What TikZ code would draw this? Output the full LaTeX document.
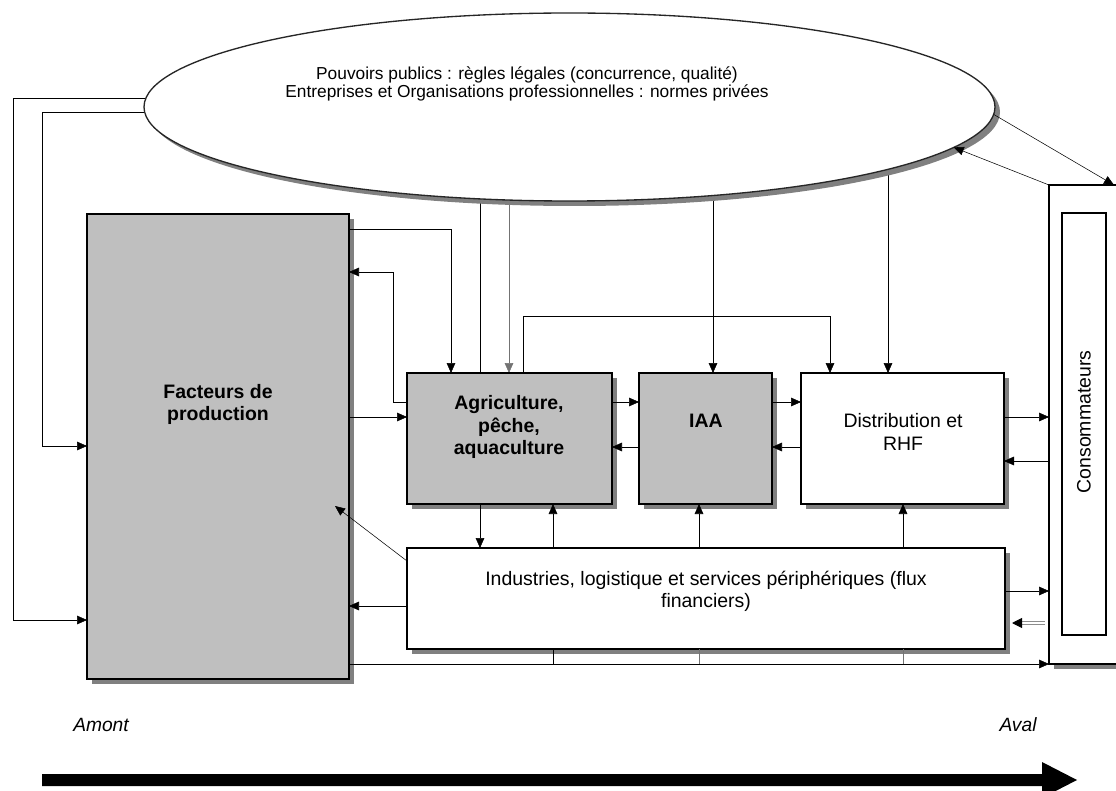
\documentclass[tikz,border=0pt]{standalone}
\usepackage{fontspec}
\setmainfont{Liberation Sans}
\usetikzlibrary{arrows.meta,shapes.geometric,fit,shadows,backgrounds}
\begin{document}
\begin{tikzpicture}[x=0.75pt,y=-0.75pt,line width=1.3pt,
  shd/.style={general shadow={fill=black!50,shadow xshift=3.75pt,shadow yshift=-3.75pt}},
  graybox/.style={draw,line width=1.6pt,fill=black!25,shd,inner sep=0pt,outer sep=0pt},
  whitebox/.style={draw,line width=1.6pt,fill=white,shd,inner sep=0pt,outer sep=0pt},
  btxt/.style={font=\fontsize{14.6pt}{17pt}\selectfont\bfseries,align=center,inner sep=0pt},
  rtxt/.style={font=\fontsize{14.6pt}{17pt}\selectfont,align=center,inner sep=0pt},
  etxt/.style={font=\fontsize{13pt}{13.6pt}\selectfont,align=center,inner sep=0pt},
  itxt/.style={font=\fontsize{14.4pt}{17pt}\selectfont\itshape,inner sep=0pt},
  arr/.style={-{Triangle[length=7.5pt,width=6.5pt]}},
  grayline/.style={black!55}]
\useasboundingbox (0,0) rectangle (1116,791);
\clip (0,0) rectangle (1116,791);

% ellipse
\node[ellipse,draw=black!85,line width=1pt,fill=white,shd,minimum width=638.25pt,minimum height=141pt,inner sep=0pt,outer sep=0pt] (ell) at (569.5,107) {};
\node[etxt] (ellT) at (527,84) {Pouvoirs publics : règles légales (concurrence, qualité)\\Entreprises et Organisations professionnelles : normes privées};

% boxes
\node[graybox,fit={(87,214) (349,679)}] (fact) {};
\node[graybox,fit={(407,373) (612,504)}] (agri) {};
\node[graybox,fit={(639,373) (772,504)}] (iaa) {};
\node[whitebox,fit={(801,373) (1004,504)}] (dist) {};
\node[whitebox,fit={(407,548) (1005,649)}] (ind) {};
\node[whitebox,fit={(1049,185) (1135,664)}] (consout) {};
\node[draw,line width=1.3pt,fill=white,inner sep=0pt,outer sep=0pt,fit={(1062,213) (1106,635)}] (consin) {};

% texts
\node[btxt] (factT) at (218,404.5) {Facteurs de\\production};
\node[btxt] (agriT) at (509,427) {Agriculture,\\pêche,\\aquaculture};
\node[btxt] (iaaT) at (706,421) {IAA};
\node[rtxt] (distT) at (903,432) {Distribution et\\RHF};
\node[rtxt] (indT) at (706,591.5) {Industries, logistique et services périphériques (flux\\financiers)};
\node[rtxt,rotate=90] (consT) at (1084,422) {Consommateurs};
\node[itxt] (amont) at (101,725) {Amont};
\node[itxt] (aval) at (1018,725) {Aval};

% lines leaving the ellipse (hidden under it)
\begin{pgfonlayer}{background}
\draw[arr] (ell.center |- 0,98) -| (13,620) -- (fact.west |- 0,620);
\draw[arr] (ell.center |- 0,112) -| (42,446) -- (fact.west |- 0,446);
\draw (ell.center -| 480,0) -- (agri.north -| 480,0);
\draw[arr,grayline] (ell.center -| 509,0) -- (agri.north -| 509,0);
\draw[arr] (ell.center -| 713,0) -- (iaa.north -| 713,0);
\draw[arr] (ell.center -| 888,0) -- (dist.north -| 888,0);
\end{pgfonlayer}

% ellipse <-> consumers
\coordinate (cr) at (1114,185);
\draw[arr] (ell.-1.4) -- (cr);
\draw[arr] (consout.north west) -- (ell.-6.5);

% facteurs <-> agriculture
\draw[arr] (fact.east |- 0,229) -| (agri.north -| 451,0);
\draw[arr] (agri.west |- 0,402) -| (393,272) -- (fact.east |- 0,272);
\draw[arr] (fact.east |- 0,417) -- (agri.west |- 0,417);
\draw[arr] (agri.north -| 523,0) |- (830,316) -- (dist.north -| 830,0);

% chain
\draw[arr] (agri.east |- 0,402) -- (iaa.west |- 0,402);
\draw[arr] (iaa.west |- 0,447) -- (agri.east |- 0,447);
\draw[arr] (iaa.east |- 0,402) -- (dist.west |- 0,402);
\draw[arr] (dist.west |- 0,447) -- (iaa.east |- 0,447);
\draw[arr] (dist.east |- 0,417) -- (consout.west |- 0,417);
\draw[arr] (consout.west |- 0,461) -- (dist.east |- 0,461);

% industries
\draw[arr] (agri.south -| 480,0) -- (ind.north -| 480,0);
\draw[arr] (ind.north -| 553,0) -- (agri.south -| 553,0);
\draw[arr] (ind.north -| 699,0) -- (iaa.south -| 699,0);
\draw[arr] (ind.north -| 903,0) -- (dist.south -| 903,0);
\coordinate (fin) at (335,506);
\draw[arr] (ind.west |- 0,561) -- (fin);
\draw[arr] (ind.west |- 0,606) -- (fact.east |- 0,606);
\draw[arr] (ind.east |- 0,591) -- (consout.west |- 0,591);
\coordinate (g1) at (1045,623);
\coordinate (g2) at (1012,623);
\draw[black!45,double=white,double distance=1.8pt,line width=0.7pt,-{Triangle[length=7.5pt,width=7.5pt,color=black,fill=black]}] (g1) -- (g2);

% bottom line
\draw[arr] (fact.east |- 0,664) -- (consout.west |- 0,664);
\coordinate (b1) at (553,664);
\coordinate (b2) at (699,664);
\coordinate (b3) at (903,664);
\draw (ind.south -| 553,0) -- (b1);
\draw[grayline] (ind.south -| 699,0) -- (b2);
\draw[grayline] (ind.south -| 903,0) -- (b3);

% big arrow
\fill[black] (42,774) -- (1042,774) -- (1042,762) -- (1077,780) -- (1042,798) -- (1042,786) -- (42,786) -- cycle;
\end{tikzpicture}
\end{document}
